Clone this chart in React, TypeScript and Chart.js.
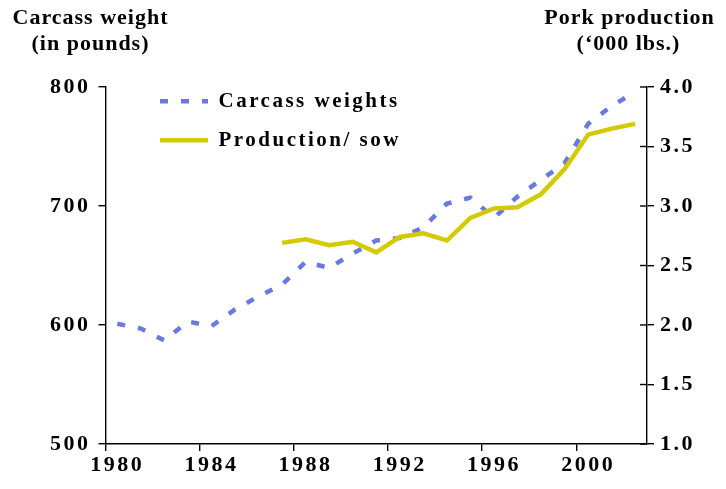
import React, { useEffect, useRef } from 'react';
import { Chart, registerables } from 'chart.js';

Chart.register(...registerables);

const years = [
  '1980', '1981', '1982', '1983', '1984', '1985', '1986', '1987', '1988', '1989', '1990', '1991',
  '1992', '1993', '1994', '1995', '1996', '1997', '1998', '1999', '2000', '2001', '2002',
];

const carcassWeights = [
  601, 597, 587, 603, 599, 613, 624, 634, 653, 648, 660, 671,
  673, 682, 702, 707, 690, 708, 722, 736, 769, 784, 796,
];

const productionPerSow = [
  null, null, null, null, null, null, null, 2.69, 2.72, 2.67, 2.70, 2.61,
  2.74, 2.77, 2.71, 2.90, 2.98, 2.99, 3.10, 3.31, 3.60, 3.65, 3.69,
];

const seriesLabels = ['Carcass weights', 'Production/ sow'];
const leftTitle = ['Carcass weight', '(in pounds)'];
const rightTitle = ['Pork production', '(\u2018000 lbs.)'];
const leftRange = [500, 800, 100];
const rightRange = [1.0, 4.0, 0.5];

const BLUE = '#6a78e2';
const YELLOW = '#d3cb00';
const FONT = '"Liberation Serif", "Times New Roman", serif';

export default function App() {
  const ref = useRef<HTMLCanvasElement>(null);

  useEffect(() => {
    const canvas = ref.current;
    if (!canvas) return;

    const spacingPlugin = {
      id: 'spacing',
      beforeLayout(chart: any) {
        chart.ctx.letterSpacing = '2.5px';
      },
      beforeDraw(chart: any) {
        chart.ctx.letterSpacing = '2.5px';
      },
    };

    const legendPosPlugin = {
      id: 'legendPos',
      afterLayout(chart: any) {
        const lg = chart.legend;
        const ca = chart.chartArea;
        if (lg && ca) {
          lg.left = ca.left + 36.5;
          lg.top = ca.top - 14.2;
        }
      },
    };

    const decorPlugin = {
      id: 'decor',
      afterDraw(chart: any) {
        const ctx = chart.ctx;
        const s = chart.scales.y1;
        ctx.save();
        ctx.letterSpacing = '0px';
        ctx.strokeStyle = '#000';
        ctx.lineWidth = 1.4;
        s.ticks.forEach((t: any) => {
          const y = s.getPixelForValue(t.value);
          ctx.beginPath();
          ctx.moveTo(s.left - 7, y);
          ctx.lineTo(s.left, y);
          ctx.stroke();
        });
        ctx.fillStyle = '#000';
        ctx.font = `bold 22px ${FONT}`;
        ctx.letterSpacing = '1px';
        ctx.textAlign = 'center';
        ctx.textBaseline = 'alphabetic';
        ctx.fillText(leftTitle[0], 90.5, 24);
        ctx.fillText(leftTitle[1], 90.5, 50);
        ctx.fillText(rightTitle[0], 629.5, 24);
        ctx.fillText(rightTitle[1], 628.5, 50);
        ctx.restore();
      },
    };

    const tickFont = { family: FONT, size: 22, weight: 'bold' as const };

    const chart = new Chart(canvas, {
      type: 'line',
      data: {
        labels: years,
        datasets: [
          {
            label: seriesLabels[0],
            data: carcassWeights,
            yAxisID: 'y',
            borderColor: BLUE,
            backgroundColor: BLUE,
            borderWidth: 4.5,
            borderDash: [8, 13],
            borderCapStyle: 'butt',
            pointRadius: 0,
            tension: 0,
            fill: false,
            order: 1,
          },
          {
            label: seriesLabels[1],
            data: productionPerSow,
            yAxisID: 'y1',
            borderColor: YELLOW,
            backgroundColor: YELLOW,
            borderWidth: 4.5,
            borderCapStyle: 'butt',
            pointRadius: 0,
            tension: 0,
            fill: false,
            order: 0,
          },
        ],
      },
      options: {
        responsive: false,
        animation: false,
        devicePixelRatio: 1,
        events: [],
        layout: { padding: { top: 87, left: 0, right: 0, bottom: 0 } },
        scales: {
          x: {
            type: 'category',
            offset: true,
            grid: {
              offset: true,
              drawOnChartArea: false,
              tickLength: 7,
              lineWidth: 1.4,
              color: (ctx: any) => (ctx.index % 4 === 0 ? '#000' : 'rgba(0,0,0,0)'),
            },
            border: { display: true, color: '#000', width: 1.4 },
            ticks: {
              autoSkip: false,
              maxRotation: 0,
              padding: 1,
              color: '#000',
              font: tickFont,
              callback: (_v: any, i: number) => (i % 4 === 0 ? years[i] : ''),
            },
            afterFit: (scale: any) => {
              scale.height = 45;
            },
          },
          y: {
            type: 'linear',
            position: 'left',
            min: leftRange[0],
            max: leftRange[1],
            grid: { drawOnChartArea: false, tickLength: 7, lineWidth: 1.4, color: '#000' },
            border: { display: true, color: '#000', width: 1.4 },
            ticks: {
              stepSize: leftRange[2],
              padding: 8,
              color: '#000',
              font: tickFont,
              callback: (v: any) => String(v),
            },
            afterFit: (scale: any) => {
              scale.width = 105.5;
            },
          },
          y1: {
            type: 'linear',
            position: 'right',
            min: rightRange[0],
            max: rightRange[1],
            grid: { drawOnChartArea: false, tickLength: 7, lineWidth: 1.4, color: '#000' },
            border: { display: true, color: '#000', width: 1.4 },
            ticks: {
              stepSize: rightRange[2],
              padding: 6,
              color: '#000',
              font: tickFont,
              callback: (v: any) => Number(v).toFixed(1),
            },
            afterFit: (scale: any) => {
              scale.width = 79;
            },
          },
        },
        plugins: {
          tooltip: { enabled: false },
          title: { display: false },
          legend: {
            display: true,
            position: 'chartArea',
            align: 'start',
            labels: {
              usePointStyle: true,
              pointStyle: 'line',
              pointStyleWidth: 48,
              padding: 18,
              color: '#000',
              font: { family: FONT, size: 21, weight: 'bold' },
              generateLabels: (c: any) =>
                c.data.datasets.map((ds: any, i: number) => ({
                  text: ds.label,
                  fillStyle: ds.borderColor,
                  strokeStyle: ds.borderColor,
                  lineWidth: ds.borderWidth,
                  lineDash: ds.borderDash || [],
                  lineCap: 'butt',
                  pointStyle: 'line',
                  fontColor: '#000',
                  hidden: false,
                  datasetIndex: i,
                })),
            },
          },
        },
      } as any,
      plugins: [spacingPlugin, legendPosPlugin, decorPlugin],
    });

    return () => chart.destroy();
  }, []);

  return (
    <div style={{ position: 'fixed', left: 0, top: 0, width: 726, height: 489, background: '#fff' }}>
      <canvas ref={ref} width={726} height={489} />
    </div>
  );
}
